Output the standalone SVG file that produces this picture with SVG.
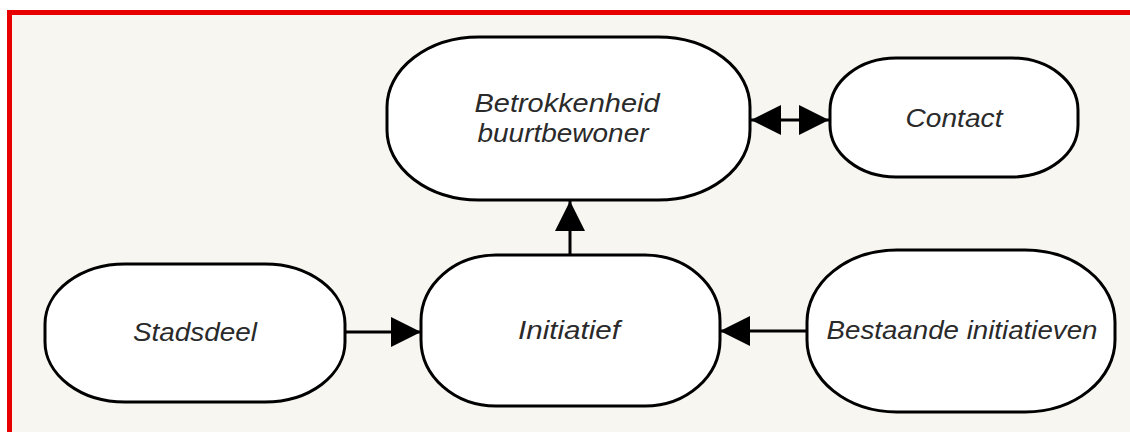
<svg xmlns="http://www.w3.org/2000/svg" width="1130" height="432" viewBox="0 0 1130 432">
<style>
.node{fill:#ffffff;stroke:#000000;stroke-width:3}
.lbl{font-family:"Liberation Sans",Arial,sans-serif;font-style:italic;font-size:25px;fill:#2a2a2a}
.conn{stroke:#000000;stroke-width:3;fill:none}
</style>
<defs>
<marker id="ah" viewBox="0 0 30 30" markerWidth="30" markerHeight="30" refX="30" refY="15" orient="auto-start-reverse" markerUnits="userSpaceOnUse">
<path d="M0,0 L30,15 L0,30 Z" fill="#000000"/>
</marker>
</defs>
<rect x="0" y="0" width="1130" height="432" fill="#ffffff"/>
<rect x="7" y="10" width="1123" height="422" fill="#f8f6f0"/>
<rect x="7" y="10" width="1123" height="5" fill="#e80000"/>
<rect x="7" y="10" width="5" height="422" fill="#e80000"/>

<g id="connectors">
<line class="conn" x1="570" y1="255" x2="570" y2="201" marker-end="url(#ah)"/>
<line class="conn" x1="346" y1="332" x2="421" y2="332" marker-end="url(#ah)"/>
<line class="conn" x1="807" y1="331" x2="720" y2="331" marker-end="url(#ah)"/>
<line class="conn" x1="751" y1="120" x2="829" y2="120" marker-start="url(#ah)" marker-end="url(#ah)"/>
</g>

<g id="betrokkenheid">
<rect class="node" x="387" y="37" width="363" height="163" rx="92" ry="70"/>
<text class="lbl" x="567" y="112" text-anchor="middle" textLength="185" lengthAdjust="spacingAndGlyphs">Betrokkenheid</text>
<text class="lbl" x="563" y="142" text-anchor="middle" textLength="171" lengthAdjust="spacingAndGlyphs">buurtbewoner</text>
</g>

<g id="contact">
<rect class="node" x="830" y="58" width="248" height="119" rx="66" ry="52"/>
<text class="lbl" x="954" y="127" text-anchor="middle" textLength="97" lengthAdjust="spacingAndGlyphs">Contact</text>
</g>

<g id="stadsdeel">
<rect class="node" x="45" y="264" width="300" height="138" rx="80" ry="60"/>
<text class="lbl" x="195" y="341" text-anchor="middle" textLength="124" lengthAdjust="spacingAndGlyphs">Stadsdeel</text>
</g>

<g id="initiatief">
<rect class="node" x="421" y="255" width="299" height="151" rx="75" ry="66"/>
<text class="lbl" x="569" y="339" text-anchor="middle" textLength="102" lengthAdjust="spacingAndGlyphs">Initiatief</text>
</g>

<g id="bestaande">
<rect class="node" x="807" y="250" width="308" height="162" rx="90" ry="72"/>
<text class="lbl" x="962" y="339" text-anchor="middle" textLength="271" lengthAdjust="spacingAndGlyphs">Bestaande initiatieven</text>
</g>
</svg>
